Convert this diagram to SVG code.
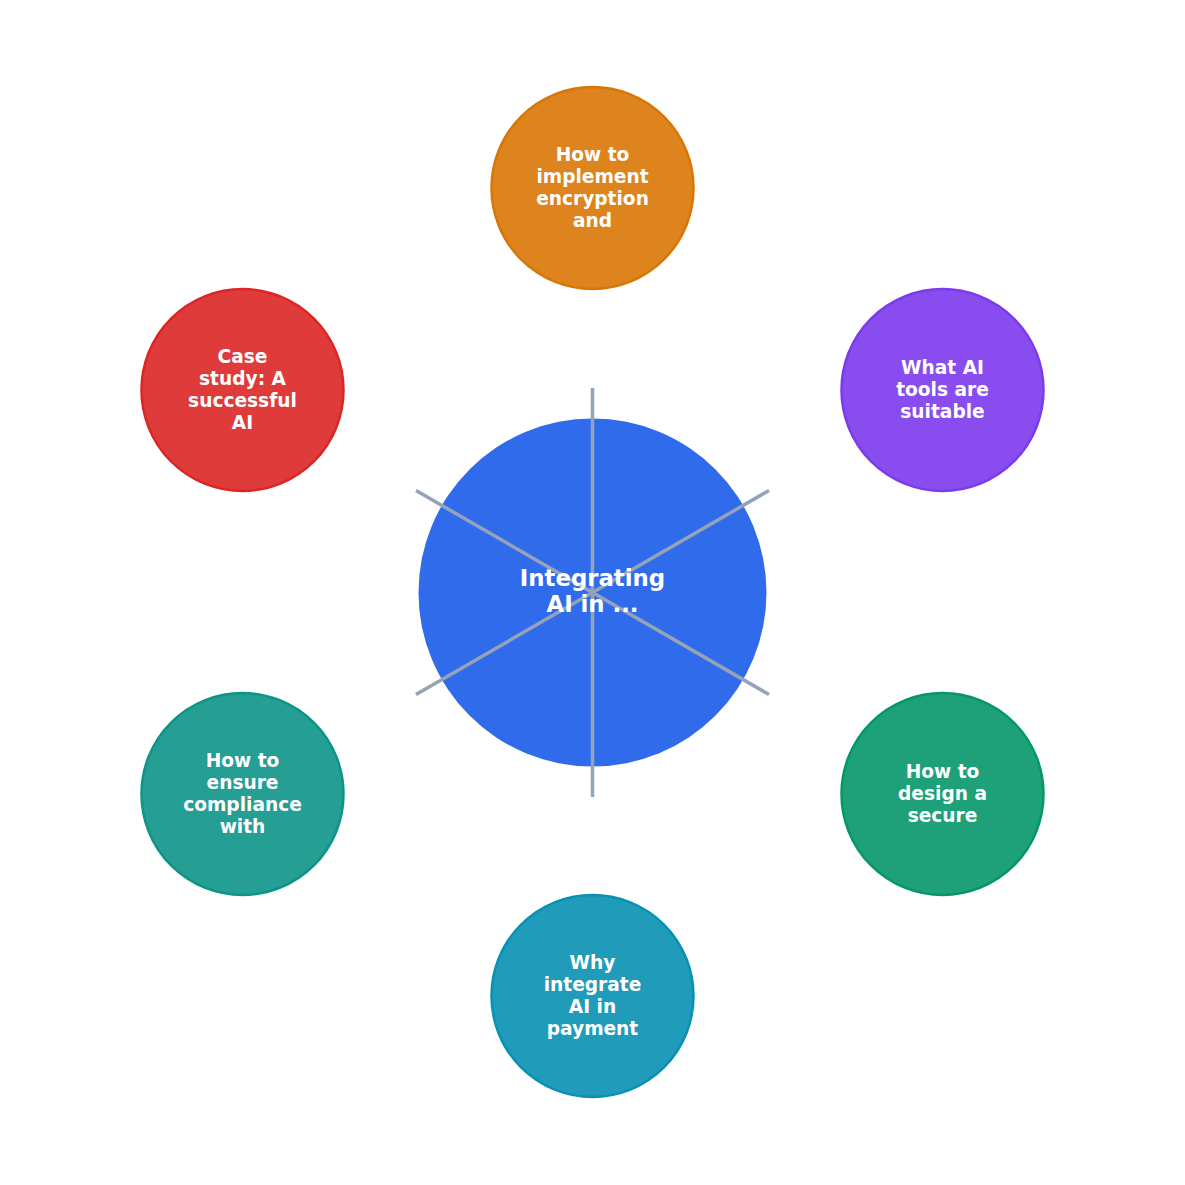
<svg xmlns="http://www.w3.org/2000/svg" width="1185" height="1185" viewBox="0 0 1185 1185">
<style>
.sat{stroke-width:2.5;fill-opacity:0.9}
.t{font-family:"DejaVu Sans",sans-serif;font-weight:bold;fill:#ffffff;text-anchor:middle}
.s{font-size:18.6px}
.c{font-size:22.8px}
.ln{stroke:#94a3b8;stroke-width:3.5;fill:none}
</style>
<rect width="1185" height="1185" fill="#ffffff"/>
<g id="center">
<circle cx="592.5" cy="592.5" r="174" fill="#2563eb" fill-opacity="0.95"/>
</g>
<g id="connectors">
<line class="ln" x1="592.5" y1="592.5" x2="592.5" y2="388"/>
<line class="ln" x1="592.5" y1="592.5" x2="769" y2="490.5"/>
<line class="ln" x1="592.5" y1="592.5" x2="769" y2="694.5"/>
<line class="ln" x1="592.5" y1="592.5" x2="592.5" y2="797"/>
<line class="ln" x1="592.5" y1="592.5" x2="416" y2="694.5"/>
<line class="ln" x1="592.5" y1="592.5" x2="416" y2="490.5"/>
</g>
<g id="center-label">
<text class="t c" x="592.5" y="586">Integrating</text>
<text class="t c" x="592.5" y="612">AI in ...</text>
</g>
<g id="node-top">
<circle class="sat" cx="592.5" cy="188" r="101" fill="#d97706" stroke="#d97706"/>
<text class="t s" x="592.5" y="161">How to</text>
<text class="t s" x="592.5" y="183">implement</text>
<text class="t s" x="592.5" y="205">encryption</text>
<text class="t s" x="592.5" y="227">and</text>
</g>
<g id="node-upper-right">
<circle class="sat" cx="942.5" cy="390" r="101" fill="#7c3aed" stroke="#7c3aed"/>
<text class="t s" x="942.5" y="374">What AI</text>
<text class="t s" x="942.5" y="396">tools are</text>
<text class="t s" x="942.5" y="418">suitable</text>
</g>
<g id="node-lower-right">
<circle class="sat" cx="942.5" cy="794" r="101" fill="#059669" stroke="#059669"/>
<text class="t s" x="942.5" y="778">How to</text>
<text class="t s" x="942.5" y="800">design a</text>
<text class="t s" x="942.5" y="822">secure</text>
</g>
<g id="node-bottom">
<circle class="sat" cx="592.5" cy="996" r="101" fill="#0891b2" stroke="#0891b2"/>
<text class="t s" x="592.5" y="969">Why</text>
<text class="t s" x="592.5" y="991">integrate</text>
<text class="t s" x="592.5" y="1013">AI in</text>
<text class="t s" x="592.5" y="1035">payment</text>
</g>
<g id="node-lower-left">
<circle class="sat" cx="242.5" cy="794" r="101" fill="#0d9488" stroke="#0d9488"/>
<text class="t s" x="242.5" y="767">How to</text>
<text class="t s" x="242.5" y="789">ensure</text>
<text class="t s" x="242.5" y="811">compliance</text>
<text class="t s" x="242.5" y="833">with</text>
</g>
<g id="node-upper-left">
<circle class="sat" cx="242.5" cy="390" r="101" fill="#dc2626" stroke="#dc2626"/>
<text class="t s" x="242.5" y="363">Case</text>
<text class="t s" x="242.5" y="385">study: A</text>
<text class="t s" x="242.5" y="407">successful</text>
<text class="t s" x="242.5" y="429">AI</text>
</g>
</svg>
